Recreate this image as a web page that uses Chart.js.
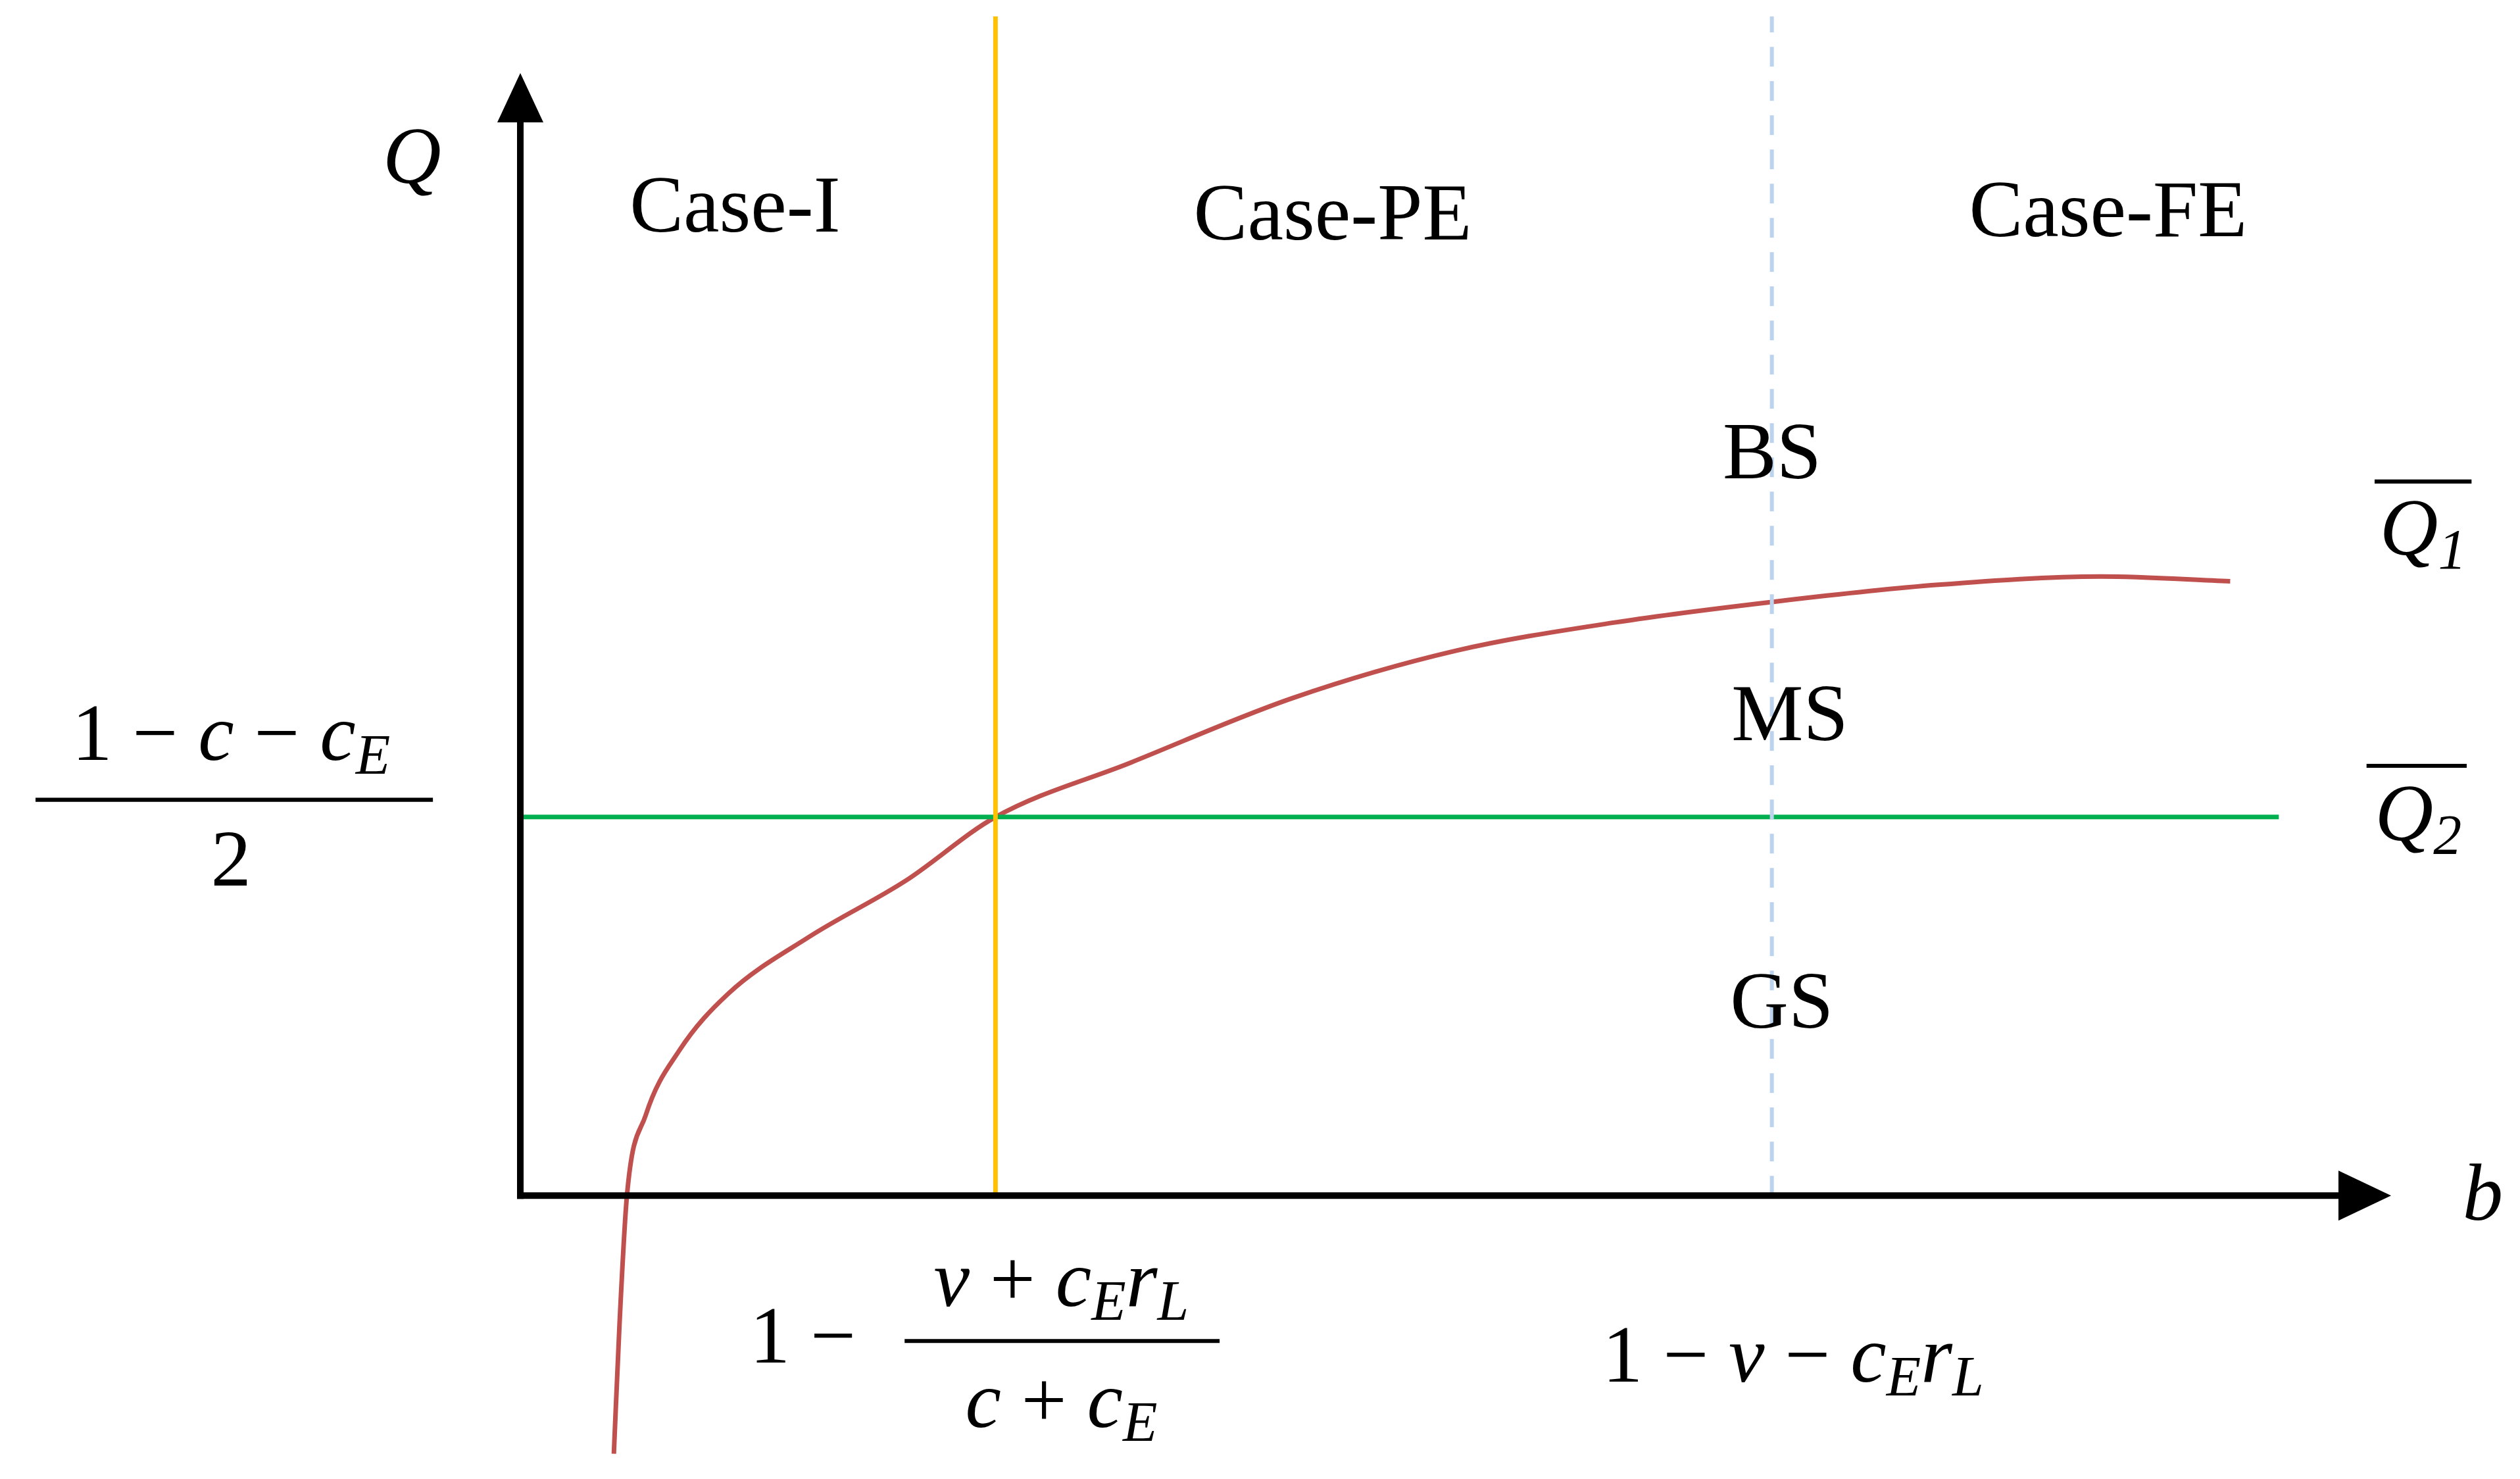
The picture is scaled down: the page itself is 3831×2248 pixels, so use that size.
<!DOCTYPE html>
<html><head><meta charset="utf-8">
<script src="https://cdn.jsdelivr.net/npm/chart.js@4"></script>
<style>html,body{margin:0;background:#fff}canvas{display:block}</style>
</head><body>
<canvas id="c" width="3831" height="2248"></canvas>
<script>
// data (b on x, Q on y)
const curveB = [0.50,0.53,0.57,0.67,0.85,1.11,1.54,2.06,2.54,3.26,4.13,5.00,5.85,6.72,7.58,8.45,9.14];
const curveQ = [-2.19,-1.10,0,0.68,1.23,1.71,2.19,2.67,3.21,3.67,4.22,4.62,4.86,5.04,5.18,5.25,5.21];
const thresholdQ = 3.21, thresholdEnd = 9.40;
const bPE = 2.54, bFE = 6.69;
const yTop = 10, yMin = -2.22, xMax = 10, yArrow = 9.52;

const S = 3831/1560;
const SERIF = '"Liberation Serif", "DejaVu Serif", serif';

// draw mixed text: parts [text, 'n'|'i'|'s'(subscript italic)]
function mtext(ctx, parts, cx, cy, size){
  const f = k => (k==='n'?'':'italic ') + (k==='s'?size*0.7:size) + 'px ' + SERIF;
  let w = 0;
  parts.forEach(p=>{ctx.font=f(p[1]); w+=ctx.measureText(p[0]).width;});
  let x = cx - w/2;
  ctx.textBaseline='middle'; ctx.textAlign='left';
  parts.forEach(p=>{ctx.font=f(p[1]); ctx.fillText(p[0], x, p[1]==='s'?cy+size*0.25:cy); x+=ctx.measureText(p[0]).width;});
  return w;
}

const deco = {
  id:'deco',
  afterDatasetsDraw(chart){
    const ctx = chart.ctx, xs = chart.scales.x, ys = chart.scales.y;
    const x0 = xs.getPixelForValue(0), y0 = ys.getPixelForValue(0);
    ctx.save();
    ctx.fillStyle='#000'; ctx.strokeStyle='#000'; ctx.lineWidth=10;
    // axes
    const yt = ys.getPixelForValue(yArrow), xr = xs.getPixelForValue(xMax);
    ctx.beginPath(); ctx.moveTo(x0, y0+5); ctx.lineTo(x0, yt+60); ctx.stroke();
    ctx.beginPath(); ctx.moveTo(x0-5, y0); ctx.lineTo(xr-70, y0); ctx.stroke();
    ctx.beginPath(); ctx.moveTo(x0, yt); ctx.lineTo(x0-35, yt+75); ctx.lineTo(x0+35, yt+75); ctx.closePath(); ctx.fill();
    ctx.beginPath(); ctx.moveTo(xr, y0); ctx.lineTo(xr-80, y0-38); ctx.lineTo(xr-80, y0+38); ctx.closePath(); ctx.fill();

    const fs = 50*S;
    ctx.fillStyle='#000';
    const P = (parts, x, y, sz) => mtext(ctx, parts, x*S, y*S, sz||fs);
    P([['Q','i']], 255, 100);
    P([['b','i']], 1537, 742);
    P([['Case-I','n']], 455, 130);
    P([['Case-PE','n']], 825, 135);
    P([['Case-FE','n']], 1305, 133);
    P([['BS','n']], 1097, 283);
    P([['MS','n']], 1108, 445);
    P([['GS','n']], 1103, 623);
    // Q bars
    P([['Q','i'],['1','s']], 1500, 330);
    P([['Q','i'],['2','s']], 1497, 507);
    ctx.lineWidth=2.5*S;
    ctx.beginPath(); ctx.moveTo(1470*S,298*S); ctx.lineTo(1530*S,298*S); ctx.stroke();
    ctx.beginPath(); ctx.moveTo(1465*S,474*S); ctx.lineTo(1527*S,474*S); ctx.stroke();
    // left fraction
    P([['1 − ','n'],['c','i'],[' − ','n'],['c','i'],['E','s']], 143, 457);
    ctx.beginPath(); ctx.moveTo(22*S,495*S); ctx.lineTo(268*S,495*S); ctx.stroke();
    P([['2','n']], 143, 535);
    // bottom fraction
    P([['1 −','n']], 497, 830);
    P([['v','i'],[' + ','n'],['c','i'],['E','s'],['r','i'],['L','s']], 657, 795);
    ctx.beginPath(); ctx.moveTo(560*S,830*S); ctx.lineTo(755*S,830*S); ctx.stroke();
    P([['c','i'],[' + ','n'],['c','i'],['E','s']], 657, 870);
    P([['1 − ','n'],['v','i'],[' − ','n'],['c','i'],['E','s'],['r','i'],['L','s']], 1110, 842);
    ctx.restore();
  }
};

new Chart(document.getElementById('c'), {
  type:'scatter',
  data:{datasets:[
    {data:[{x:bFE,y:0},{x:bFE,y:yTop}], showLine:true, borderColor:'#bcd3ee', borderWidth:6, borderDash:[30,22], pointRadius:0},
    {data:[{x:bPE,y:0},{x:bPE,y:yTop}], showLine:true, borderColor:'#ffc000', borderWidth:7, pointRadius:0},
    {data:[{x:0,y:thresholdQ},{x:thresholdEnd,y:thresholdQ}], showLine:true, borderColor:'#00b050', borderWidth:7, pointRadius:0},
    {data:curveB.map((b,i)=>({x:b,y:curveQ[i]})), showLine:true, borderColor:'#c0504d', borderWidth:7, pointRadius:0, tension:0.4, cubicInterpolationMode:'monotone'}
  ]},
  options:{
    responsive:false, animation:false, devicePixelRatio:1,
    layout:{padding:{left:791, right:196, top:25, bottom:33}},
    plugins:{legend:{display:false}, tooltip:{enabled:false}},
    scales:{
      x:{type:'linear', min:0, max:xMax, display:false},
      y:{type:'linear', min:yMin, max:yTop, display:false}
    }
  },
  plugins:[deco]
});
</script>
</body></html>
